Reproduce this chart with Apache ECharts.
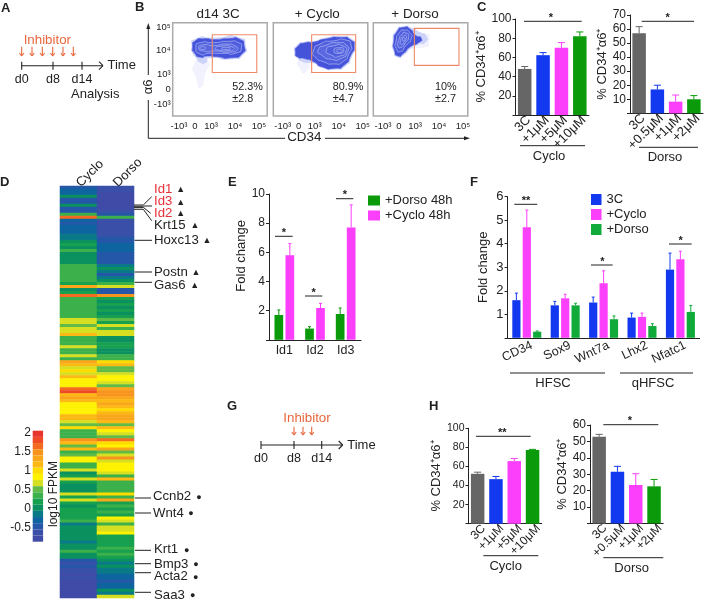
<!DOCTYPE html>
<html><head><meta charset="utf-8">
<style>html,body{margin:0;padding:0;background:#fff}#c{width:709px;height:603px}</style>
<script src="https://cdn.jsdelivr.net/npm/echarts@6/dist/echarts.min.js"></script>
</head><body><div id="c"></div>
<script>
// ---------- data ----------
const cycloDoses=['3C','+1μM','+5μM','+10μM'];
const dorsoDoses=['3C','+0.5μM','+1μM','+2μM'];
const cValuesCyclo=[48,62.3,70,82], cTopsCyclo=[50.5,65,75.4,86.5];
const cValuesDorso=[57,17,8.3,10], cTopsDorso=[61.7,20,13,12.6];
const hValuesCyclo=[52.3,46.7,65.6,77.2], hTopsCyclo=[54,49.5,68.4,77.9];
const hValuesDorso=[52.8,31.5,23.4,22.6], hTopsDorso=[54.3,34.8,30.3,26.8];
const eGenes=['Id1','Id2','Id3'];
const eDorso=[1.7,0.77,1.77], eDorsoTop=[2.05,0.9,2.18];
const eCyclo=[5.8,2.18,7.7], eCycloTop=[6.6,2.5,9.25];
const fGenes=['CD34','Sox9','Wnt7a','Lhx2','Nfatc1'];
const f3C=[1.6,1.38,1.5,0.86,2.9], f3CTop=[1.9,1.55,1.73,1.05,3.6];
const fCyclo=[4.7,1.68,2.32,0.89,3.34], fCycloTop=[5.43,1.85,2.85,1.05,3.68];
const fDorso=[0.26,1.38,0.79,0.5,1.1], fDorsoTop=[0.29,1.47,0.93,0.6,1.37];
const heatColumns=['Cyclo','Dorso'];
const heatCyclo=[-.4,-.25,-.35,0,-.4,-.45,.1,-.45,-.5,.3,1.7,-.3,-.4,-.25,-.35,-.3,-.15,-.2,.1,.2,.05,.3,0,.1,-.05,0,.35,.3,.35,.35,.3,.4,.2,1.3,
0,.2,1.7,.35,.3,.4,.4,.3,.35,.35,.6,.7,.55,.75,.6,1.2,.4,.4,.4,.7,.3,.3,.6,.3,1.4,1.2,.7,1,.6,1.2,.85,.85,.85,1.7,1.8,
1.2,1.3,1.1,.9,.85,.85,.85,1.15,1.15,.7,.5,1,.4,.4,.4,1.5,1.2,.55,1.1,.4,.55,.8,.9,.3,.4,.7,.1,.15,.7,.2,.1,0,0,.65,.2,
.75,.15,.05,.2,.15,.2,.15,.3,-.2,0,.05,.05,-.05,0,-.1,0,-.05,.3,0,0,-.5,-.55,-.5,-.55,-.7,-.75,-.7,-.75,-.75,-.75,-.75,-.75,-.75];
const heatDorso=[-.7,-.7,-.75,-.75,-.75,-.75,-.75,-.75,-.7,-.5,.3,-.7,-.7,-.7,-.65,-.6,-.6,-.5,-.4,-.35,-.35,-.3,-.4,-.5,-.5,-.5,-.1,0,-.1,-.45,-.2,.05,.3,.65,
-.4,-.5,1.5,.2,.05,.2,.1,.15,.05,.2,.5,.2,.75,.4,.65,.7,.1,.1,.2,.15,.1,.1,.3,.35,1,1.1,.5,.5,.75,.8,.8,.75,.5,1.4,1.5,
1.5,1.35,1.2,1.4,1.2,1,1.1,1.3,1.4,1.2,.5,1.1,.9,.65,.5,1.65,1,.8,1.3,.5,.65,1.45,.75,.9,.8,.8,.7,.4,1.1,.3,.3,.3,.35,1,.3,
1.3,.15,.35,.2,.3,.25,.8,.75,.3,.75,.6,.8,.15,.2,.15,.2,.3,.2,.35,.2,.05,-.1,0,-.15,-.1,-.25,-.3,-.4,-.35,-.3,.1,-.2,.6];
const heatStops=[-.87,-.707,-.544,-.381,-.218,-.055,.108,.271,.434,.597,.76,.923,1.086,1.249,1.412,1.575,1.738,1.901,2.064];
const heatPalette=['#3f4ba6','#3a50a8','#2557a8','#0e649f','#0a7a88','#0b9060','#16a04f','#3cb04a','#62bb46','#d7df23','#fff200','#ffdc00','#fdb913','#faa61a','#f7941d','#f26b21','#ef4b26','#e8352b'];
const scaleTicks=[2,1.5,1,0.5,0,-0.5];
const genesUp=['Id1','Id3','Id2','Krt15','Hoxc13','Postn','Gas6'];
const genesDown=['Ccnb2','Wnt4','Krt1','Bmp3','Acta2','Saa3'];
// flow plots: display units where -10^3=-1, 0=0, 10^3=1, 10^4=2.5, 10^5=4
const flowTicks=[-1,0,1,2.5,4];
const flowTickNames=['-10³','0','10³','10⁴','10⁵'];
const flowTitles=['d14 3C','+ Cyclo','+ Dorso'];
const flowPct=['52.3%','80.9%','10%'], flowSd=['±2.8','±4.7','±2.7'];
const gates=[[1.08,1.1,3.86,3.55],[.81,1.1,3.56,3.55],[.96,1.56,3.75,3.96]];
const contours3C=[
[[0,1.8],[.8,1.9],[.6,.8],[.35,.1],[.15,.4]],
[[-.22,2.77],[-.04,3.26],[1.27,3.36],[2.83,3.36],[3.18,2.81],[3.04,2.26],[2.31,1.95],[.85,2.02],[.7,1.75],[.36,1.72],[.02,2.1],[-.16,2.34]],
[[-.15,2.77],[.02,3.16],[.54,3.29],[1.27,3.24],[2.1,3.31],[2.83,3.24],[3.08,2.81],[2.98,2.34],[2.31,2.05],[1.27,2.12],[.75,2.16],[.33,2.08],[-.02,2.34]],
[[.06,2.73],[.33,3.03],[1.17,3.03],[2.1,3.12],[2.73,3.03],[2.9,2.73],[2.63,2.38],[1.69,2.34],[.85,2.34],[.33,2.29]],
[[.23,2.68],[.54,2.9],[1.17,2.84],[2,2.94],[2.52,2.81],[2.65,2.6],[2.21,2.42],[1.27,2.49],[.65,2.47]],
[[1.27,2.66],[1.69,2.81],[2.27,2.77],[2.42,2.6],[2,2.51],[1.48,2.55]],
[[1.65,2.66],[2,2.73],[2.21,2.64],[1.9,2.58]],
[[.31,2.68],[.48,2.77],[.65,2.68],[.48,2.6]]];
const contoursCyclo=[
[[0,1.9],[.6,1.75],[.4,1.1],[.15,1.2]],
[[-.28,2.38],[-.1,2.88],[.41,3.1],[1,3.15],[1.63,3.35],[2.65,3.46],[3.32,3.27],[3.55,2.81],[3.35,2.18],[2.93,1.5],[2.24,1.28],[1.43,1.4],[.92,1.7],[.5,1.72],[.25,1.78],[-.07,2]],
[[-.2,2.38],[-.04,2.81],[.41,3.03],[.92,3.07],[1.63,3.27],[2.65,3.38],[3.27,3.2],[3.47,2.81],[3.27,2.23],[2.86,1.58],[2.24,1.36],[1.43,1.47],[.92,1.8],[.31,2.01],[-.04,2.08]],
[[.92,2.49],[1.33,2.94],[2.24,3.16],[2.96,3.2],[3.27,2.88],[3.16,2.34],[2.76,1.8],[2.24,1.65],[1.53,1.8],[1.02,2.12]],
[[1.22,2.55],[1.73,2.88],[2.45,3.03],[2.96,2.88],[3.06,2.45],[2.65,2.01],[2.04,1.95],[1.43,2.23]],
[[1.73,2.55],[2.24,2.84],[2.76,2.81],[2.96,2.51],[2.55,2.16],[2.04,2.23]],
[[2.2,2.51],[2.55,2.71],[2.82,2.55],[2.55,2.34]],
[[2.39,2.51],[2.59,2.6],[2.71,2.49],[2.55,2.4]]];
const contoursDorso=[
[[.5,3],[1.6,3.6],[1.9,3.2],[1.5,2.7]],
[[-.4,3.1],[-.2,3.8],[.29,4.1],[.8,4],[1.3,3.72],[1.7,3.5],[1.65,3.05],[1.2,2.9],[.75,2.65],[.3,2.22],[-.08,2.08],[-.36,2.5]],
[[-.33,3.1],[-.13,3.74],[.29,4.03],[.71,3.9],[1.02,3.53],[1.4,3.31],[1.23,3.03],[.71,2.77],[.29,2.34],[-.06,2.16],[-.29,2.55]],
[[-.19,3.1],[.02,3.68],[.33,3.85],[.67,3.68],[.77,3.31],[.4,2.81],[.08,2.45],[-.17,2.66]],
[[-.02,3.16],[.19,3.59],[.4,3.68],[.6,3.42],[.4,3.03],[.13,2.73],[-.06,2.81]],
[[.1,3.16],[.29,3.46],[.46,3.42],[.35,3.1],[.15,2.94]],
[[.21,3.25],[.31,3.36],[.38,3.25],[.27,3.14]]];

// ---------- styles / builders ----------
const FONT='"Liberation Sans", Arial, sans-serif', INK='#222222', ORANGE='#e8663c';
const GRAY='#666666',BLUE='#1238f0',MAG='#fb3ffb',GREEN='#0a9a0a',GREEN2='#10aa3a';
const grids=[],xAxes=[],yAxes=[],series=[];
function errSeries(g,vals,tops,color,off,cap){
  series.push({type:'custom',xAxisIndex:g,yAxisIndex:g,z:1,silent:true,
    data:vals.map((v,i)=>[i,v,tops[i]]),encode:{x:0,y:1},
    renderItem:(p,api)=>{
      const a=api.coord([api.value(0),api.value(1)]),b=api.coord([api.value(0),api.value(2)]);
      const c=Array.isArray(color)?color[api.value(0)]:color,x=a[0]+off;
      return {type:'group',children:[
        {type:'line',shape:{x1:x,y1:a[1],x2:x,y2:b[1]},style:{stroke:c,lineWidth:1}},
        {type:'line',shape:{x1:x-cap,y1:b[1],x2:x+cap,y2:b[1]},style:{stroke:c,lineWidth:1}}]};
    }});
}
function panel(o){
  const g=grids.length;
  const labelStyle={interval:0,rotate:o.rot||0,margin:o.xm||4,color:INK,fontFamily:FONT,fontSize:o.xfs||13};
  grids.push({left:o.l,top:o.t,width:o.w,height:o.h});
  xAxes.push({gridIndex:g,type:'category',data:o.cats,
    axisLine:{lineStyle:{color:INK,width:1}},axisTick:{show:false},
    axisLabel:o.sx?{show:false}:labelStyle});
  yAxes.push({gridIndex:g,type:'value',min:0,max:o.max,interval:o.step,splitLine:{show:false},
    name:o.name,nameLocation:'middle',nameGap:o.gap,nameRotate:90,
    nameTextStyle:{color:INK,fontFamily:FONT,fontSize:13,padding:o.namePad||0},
    axisLine:{show:true,lineStyle:{color:INK,width:1}},axisTick:{show:true,length:3,lineStyle:{color:INK}},
    axisLabel:{margin:4,color:INK,fontFamily:FONT,fontSize:o.yfs||12,formatter:v=>v===0?'':String(v)}});
  if(o.sx){ // tick labels sit a few pixels right of their bars: carried by a companion axis
    const h=grids.length;
    grids.push({left:o.l+o.sx,top:o.t,width:o.w,height:o.h});
    xAxes.push({gridIndex:h,type:'category',data:o.cats,axisLine:{show:false},axisTick:{show:false},axisLabel:labelStyle});
    yAxes.push({gridIndex:h,type:'value',min:0,max:o.max,show:false});
  }
  return g;
}
function dosePanel(o,vals,tops){
  const g=panel(Object.assign({rot:45,xm:3},o));
  const cols=[GRAY,BLUE,MAG,GREEN];
  series.push({type:'bar',xAxisIndex:g,yAxisIndex:g,barWidth:13.5,z:2,
    data:vals.map((v,i)=>({value:v,itemStyle:{color:cols[i]}}))});
  errSeries(g,vals,tops,cols,0,3.5);
}
function groupPanel(o,sets){
  const g=panel(o),n=sets.length;
  sets.forEach((s,k)=>{
    series.push({type:'bar',name:s.name,xAxisIndex:g,yAxisIndex:g,barWidth:o.bw,barGap:(o.bg/o.bw*100)+'%',z:2,
      itemStyle:{color:s.color},data:s.vals});
    errSeries(g,s.vals,s.tops,s.color,(k-(n-1)/2)*(o.bw+o.bg),1.5);
  });
}
const yName='% CD34⁺α6⁺';
dosePanel({l:515.5,t:19,w:73.5,h:96,cats:cycloDoses,max:100,step:20,name:yName,gap:21,sx:4},cValuesCyclo,cTopsCyclo);
dosePanel({l:630,t:15,w:73,h:98.3,cats:dorsoDoses,max:70,step:10,name:yName,gap:20,sx:4},cValuesDorso,cTopsDorso);
dosePanel({l:468.5,t:428.3,w:73.2,h:95.4,cats:cycloDoses,max:100,step:20,name:yName,gap:21,yfs:10.5,xfs:12,sx:6},hValuesCyclo,hTopsCyclo);
dosePanel({l:590,t:425,w:73.2,h:98.4,cats:dorsoDoses,max:60,step:10,name:yName,gap:20,xfs:12,sx:6},hValuesDorso,hTopsDorso);
groupPanel({l:269,t:194,w:92,h:145.8,cats:eGenes,max:10,step:2,name:'Fold change',gap:18,namePad:[0,0,0,22],xfs:12.5,bw:8.7,bg:2.3},
  [{name:'+Dorso 48h',color:GREEN,vals:eDorso,tops:eDorsoTop},{name:'+Cyclo 48h',color:MAG,vals:eCyclo,tops:eCycloTop}]);
groupPanel({l:507.6,t:196.7,w:192,h:141.1,cats:fGenes,max:6,step:1,name:'Fold change',gap:18,yfs:13,xfs:12.5,rot:25,xm:7,sx:5,bw:8.2,bg:2.2},
  [{name:'3C',color:BLUE,vals:f3C,tops:f3CTop},{name:'+Cyclo',color:MAG,vals:fCyclo,tops:fCycloTop},{name:'+Dorso',color:GREEN2,vals:fDorso,tops:fDorsoTop}]);

// flow plots
const contourSets=[contours3C,contoursCyclo,contoursDorso];
const flowLefts=[172.7,273.3,373.3], flowZeroX=[195,298.7,399];
contourSets.forEach((cs,pi)=>{
  const g=grids.length,L=flowLefts[pi],W=94.5;
  grids.push({left:L,top:22.7,width:W,height:93.3,show:true,backgroundColor:'#fff',borderColor:'#aaaaaa',borderWidth:1.5});
  const fmt=v=>flowTickNames[flowTicks.indexOf(v)]||'';
  xAxes.push({gridIndex:g,type:'value',min:(L-flowZeroX[pi])/16,max:(L+W-flowZeroX[pi])/16,splitLine:{show:false},
    axisLine:{show:false},axisTick:{show:false},
    axisLabel:{customValues:flowTicks,formatter:fmt,margin:5,color:INK,fontFamily:FONT,fontSize:9.5,hideOverlap:false}});
  yAxes.push({gridIndex:g,type:'value',min:-1.73,max:4.33,splitLine:{show:false},
    axisLine:{show:false},axisTick:{show:false},
    axisLabel:{show:pi===0,customValues:flowTicks,formatter:fmt,margin:2,color:INK,fontFamily:FONT,fontSize:9.5}});
  series.push({type:'custom',xAxisIndex:g,yAxisIndex:g,silent:true,z:2,
    data:cs.map((c,i)=>[i]),encode:{x:[],y:[]},
    renderItem:(p,api)=>{
      const i=api.value(0),pts=cs[i].map(q=>api.coord(q));
      const st=i===0?{fill:'#f1f2fd'}:i===1?{fill:'#ccd2f8'}:i===2?{fill:'#4453d9',stroke:'#5563e0',lineWidth:.5}
        :{fill:i%2?'#4f5edc':'#5a68e0',stroke:'#a4aef2',lineWidth:.8};
      return {type:'polygon',shape:{points:pts,smooth:.9},style:st};
    }});
  const gt=gates[pi];
  series.push({type:'custom',xAxisIndex:g,yAxisIndex:g,silent:true,z:3,
    data:[gt],encode:{x:[0,2],y:[1,3]},
    renderItem:(p,api)=>{
      const a=api.coord([api.value(0),api.value(1)]),b=api.coord([api.value(2),api.value(3)]);
      return {type:'rect',shape:{x:a[0],y:b[1],width:b[0]-a[0],height:a[1]-b[1]},style:{fill:'none',stroke:'#ee8a6a',lineWidth:1.1}};
    }});
});

// heat map
const heatGrid=grids.length;
grids.push({left:60,top:186,width:74,height:412});
xAxes.push({gridIndex:heatGrid,type:'category',position:'top',data:heatColumns,axisLine:{show:false},axisTick:{show:false},
  axisLabel:{rotate:-45,margin:1,color:INK,fontFamily:FONT,fontSize:13,interval:0}});
yAxes.push({gridIndex:heatGrid,type:'category',inverse:true,show:false,data:heatCyclo.map((v,i)=>i)});
const heatIndex=series.length;
series.push({type:'heatmap',xAxisIndex:heatGrid,yAxisIndex:heatGrid,silent:true,progressive:0,
  data:heatCyclo.map((v,i)=>[0,i,v]).concat(heatDorso.map((v,i)=>[1,i,v]))});
// colour-scale labels
const scaleGrid=grids.length;
grids.push({left:33,top:430.7,width:10.3,height:111});
xAxes.push({gridIndex:scaleGrid,type:'value',min:0,max:1,show:false});
yAxes.push({gridIndex:scaleGrid,type:'value',min:-0.87,max:2.064,splitLine:{show:false},
  axisLine:{show:false},axisTick:{show:false},
  axisLabel:{customValues:scaleTicks,formatter:v=>String(v),margin:2,color:INK,fontFamily:FONT,fontSize:12}});

// ---------- annotations ----------
const gfx=[];
const ln=(x1,y1,x2,y2,c=INK,w=1)=>gfx.push({type:'line',silent:true,z:50,shape:{x1,y1,x2,y2},style:{stroke:c,lineWidth:w}});
const tx=(x,y,t,size=13,o={})=>gfx.push({type:'text',silent:true,z:50,x,y,rotation:o.rot||0,
  style:{text:t,fill:o.c||INK,font:(o.bold?'bold ':'')+size+'px '+FONT,textAlign:o.a||'center',textVerticalAlign:'middle'}});
[['A',1,8],['B',135,7],['C',477,7],['D',0,182],['E',228,182],['F',470,182],['G',227,406],['H',429,406]]
  .forEach(p=>tx(p[1],p[2],p[0],13,{bold:true,a:'left'}));
function timeline(y,x0,xEnd,ticks,labels,ly,arrows,ay,ax){
  ln(x0,y,xEnd,y,INK,1.1);
  ln(xEnd-4,y-4,xEnd,y,INK,1.1);ln(xEnd-4,y+4,xEnd,y,INK,1.1);
  ticks.forEach((t,i)=>{ln(t,y-4,t,y+4,INK,1.1);tx(t,ly,labels[i],12.5);});
  tx(xEnd+4.5,y,'Time',13,{a:'left'});
  arrows.forEach(a=>{ln(a,ay[0],a,ay[1],ORANGE,1.1);ln(a-2.2,ay[1]-3,a,ay[1],ORANGE,1.1);ln(a+2.2,ay[1]-3,a,ay[1],ORANGE,1.1);});
  tx(ax[0],ax[1],'Inhibitor',13.3,{c:ORANGE});
}
timeline(65.7,21.7,103,[21.7,53,82],['d0','d8','d14'],79.3,[21.7,32,42.3,52.7,63,73.3],[46.7,56],[47.3,40]);
tx(95.3,94,'Analysis',13);
timeline(445,261,342.7,[261,294,321.7],['d0','d8','d14'],458.7,[294,303,311.7],[426.7,435],[307,418.7]);
// B frame
ln(148.3,28,148.3,75);ln(148.3,100,148.3,138.3);
gfx.push({type:'polygon',silent:true,shape:{points:[[148.3,23],[146.3,29],[150.3,29]]},style:{fill:INK}});
tx(148.5,87,'α6',13,{rot:Math.PI/2});
ln(148.3,138.3,285,138.3);ln(325,138.3,466,138.3);
gfx.push({type:'polygon',silent:true,shape:{points:[[470,138.3],[464,136.3],[464,140.3]]},style:{fill:INK}});
tx(304.3,137,'CD34',13.4);
[218,317.3,415].forEach((x,i)=>tx(x,14.3,flowTitles[i],13.4));
[232.3,332.7,435].forEach((x,i)=>{tx(x,86.7,flowPct[i],10.8,{a:'left'});tx(x,99,flowSd[i],10.8,{a:'left'});});
// significance bars
[[524,581.7,21.3,551,'*'],[641.7,694,21.3,667.7,'*'],[275,292.7,236.3,284,'*'],[305,322.3,296,313.7,'*'],[336,353.3,198.7,345,'*'],
 [514.3,537.3,204.3,526,'**'],[591,612.7,265,602.3,'*'],[669,691.7,244,680.7,'*'],[476,530.7,436.3,502.3,'**'],[603.3,658.3,424.7,630,'*']]
 .forEach(s=>{ln(s[0],s[2],s[1],s[2],INK,1);tx(s[3],s[2]-3.5,s[4],11,{bold:true});});
// group rules
[[520,585,145.7,549,156,'Cyclo'],[639,698,147.3,665,157,'Dorso'],[483.3,538.3,555.7,505.7,566,'Cyclo'],[603.3,663.3,557.7,631.7,568.3,'Dorso'],
 [510,605,373,553,383.5,'HFSC'],[620,693,373,653,383.5,'qHFSC']]
 .forEach(s=>{ln(s[0],s[2],s[1],s[2],INK,1);tx(s[3],s[4],s[5],13);});
// gene call-outs
const upY=[189,201.7,213,225,240,272,285],upMark=[180.7,180.7,180.7,195,207,196,194.7];
genesUp.forEach((g,i)=>{tx(154,upY[i],g,13.2,{a:'left',c:i<3?'#e8303a':INK});tx(upMark[i],upY[i]+.5,'▲',9);});
const downY=[496.7,513,549.7,564,576.7,595],downMark=[199,191,186.7,196,195.7,192.7];
genesDown.forEach((g,i)=>{tx(i<2?153:154,downY[i],g,13.2,{a:'left'});tx(downMark[i],downY[i]+.5,'●',9);});
ln(134,205,143.3,205,INK,1);ln(134,206.3,143.3,206.3,INK,1);ln(134,207.6,143.3,207.6,INK,1);
ln(143.3,205,151.7,196.7);ln(143.3,206,152,206);ln(143.3,207.3,150.7,213.3);
ln(134,209.3,143.3,209.3);ln(143.3,209.3,151.7,220.7);
[240.3,272,282.3].forEach(y=>ln(134.5,y,152,y));
[498,513,550.3,563.7,572.7,592.3].forEach(y=>ln(135,y,151,y));
tx(53.3,494,'log10 FPKM',12,{rot:Math.PI/2});

const option={
  backgroundColor:'#fff',animation:false,tooltip:{show:false},
  textStyle:{fontFamily:FONT},
  grid:grids,xAxis:xAxes,yAxis:yAxes,series,graphic:gfx,
  visualMap:[{type:'piecewise',seriesIndex:heatIndex,orient:'vertical',left:32.7,top:430.7,padding:0,
    itemWidth:10.4,itemHeight:111/18,itemGap:0,showLabel:false,selectedMode:false,hoverLink:false,itemSymbol:'rect',
    pieces:heatPalette.map((c,i)=>({gte:heatStops[i],lt:heatStops[i+1],color:c}))}],
  legend:[
   {data:['+Dorso 48h','+Cyclo 48h'],orient:'vertical',left:368,top:194,padding:0,itemWidth:12,itemHeight:10,itemGap:2,icon:'rect',selectedMode:false,
    textStyle:{fontSize:13,color:INK,fontFamily:FONT}},
   {data:['3C','+Cyclo','+Dorso'],orient:'vertical',left:591,top:193,padding:0,itemWidth:10.5,itemHeight:11,itemGap:2,icon:'rect',selectedMode:false,
    textStyle:{fontSize:13,color:INK,fontFamily:FONT}}]
};
echarts.init(document.getElementById('c')).setOption(option);
</script></body></html>
